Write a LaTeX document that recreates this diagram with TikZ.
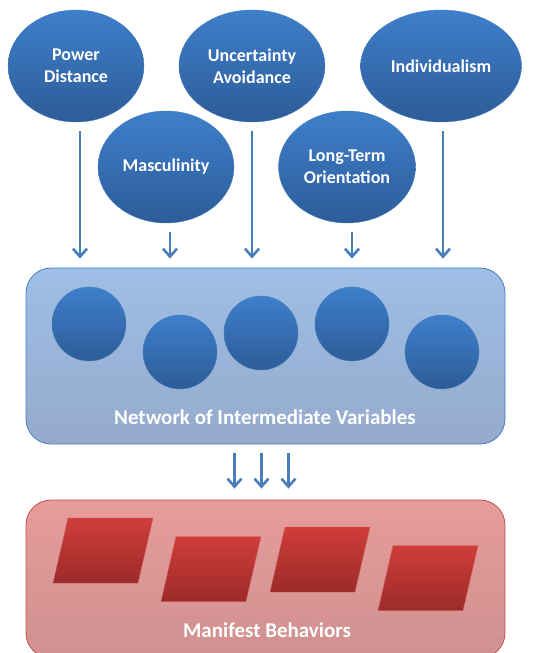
\documentclass[tikz,border=0pt]{standalone}
\usepackage{fontspec}
\setmainfont{Carlito}
\usetikzlibrary{shapes.geometric,arrows.meta}
\definecolor{dimtop}{HTML}{3E7FCB}
\definecolor{dimbot}{HTML}{2D5C98}
\definecolor{dimline}{HTML}{4A7EBB}
\definecolor{flowcol}{HTML}{4A7EBB}
\definecolor{nettop}{HTML}{9EBFE6}
\definecolor{netbot}{HTML}{95AACB}
\definecolor{behtop}{HTML}{CF3D3A}
\definecolor{behbot}{HTML}{9C2B2A}
\definecolor{behline}{HTML}{D2625E}
\definecolor{mantop}{HTML}{E69C9A}
\definecolor{manbot}{HTML}{CF9190}
\definecolor{manline}{HTML}{C0504D}
\tikzstyle{dim} = [ellipse, draw=dimline, top color=dimtop, bottom color=dimbot, minimum width=136pt, minimum height=112pt, inner sep=0pt, align=center, text=white, font=\fontsize{18}{21.6}\selectfont\bfseries]
\tikzstyle{var} = [circle, draw=dimline, top color=dimtop, bottom color=dimbot, minimum size=74pt, inner sep=0pt]
\tikzstyle{beh} = [draw=behline, top color=behtop, bottom color=behbot]
\tikzstyle{panel} = [rectangle, rounded corners=25pt, minimum width=479pt, inner sep=0pt, line width=0.8pt]
\tikzstyle{paneltext} = [anchor=base, text=white, font=\fontsize{21}{25}\selectfont\bfseries]
\tikzstyle{flow} = [draw=flowcol, line width=2.6pt, -{Straight Barb[length=8pt,width=14pt]}]

\begin{document}
\begin{tikzpicture}[x=1pt, y=-1pt]
	\useasboundingbox (0,0) rectangle (533,653);

	\node[dim] at (76,66) (pd) {Power\\Distance};
	\node[dim, minimum width=146pt] at (252,66) (ua) {Uncertainty\\Avoidance};
	\node[dim, minimum width=161pt] at (441,66) (ind) {Individualism};
	\node[dim] at (166,167) (mas) {Masculinity};
	\node[dim, minimum width=137pt] at (347,167) (lto) {Long-Term\\Orientation};

	\node[panel, draw=dimline, top color=nettop, bottom color=netbot, minimum height=176pt] at (265.5,356) (network) {};
	\node[var] at (89,324) (v1) {};
	\node[var] at (180,352) (v2) {};
	\node[var] at (261,333) (v3) {};
	\node[var] at (352,324) (v4) {};
	\node[var] at (442,352) (v5) {};
	\node[paneltext] at (265,424) (netlabel) {Network of Intermediate Variables};

	\node[panel, draw=manline, top color=mantop, bottom color=manbot, minimum height=158pt] at (265.5,579) (behaviors) {};
	\foreach \x/\y in {103/550.5, 211/569, 320/559.5, 428/578}{
		\shade[beh] (\x-50,\y+32.5) -- ++(85,0) -- ++(15,-65) -- ++(-85,0) -- cycle;
	}
	\node[paneltext] at (267,637) (manlabel) {Manifest Behaviors};

	\foreach \a/\dx in {pd/4, mas/4, ua/0, lto/5, ind/2}{
		\draw[flow, shorten <=9pt, shorten >=9pt] ([xshift=\dx pt]\a.south) -- ([xshift=\dx pt]\a.south |- network.north);
	}
	\foreach \dx in {-31, -4, 23}{
		\draw[flow, shorten <=9pt, shorten >=11pt] ([xshift=\dx pt]network.south) -- ([xshift=\dx pt]behaviors.north);
	}
\end{tikzpicture}
\end{document}
